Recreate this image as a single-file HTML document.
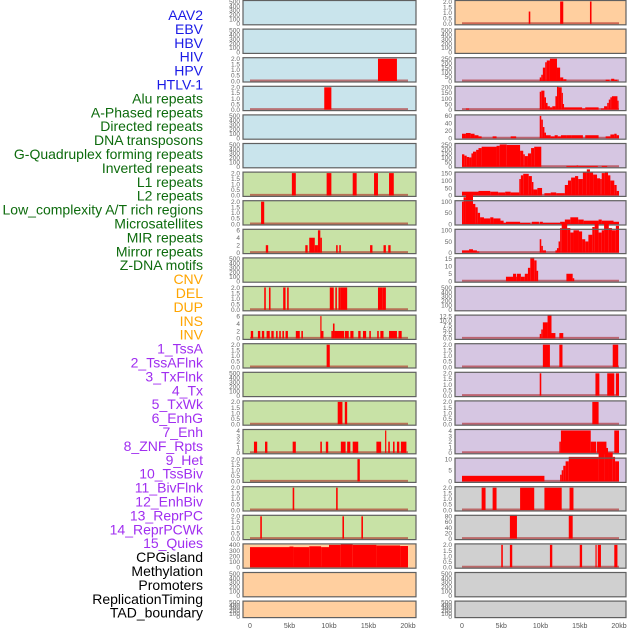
<!DOCTYPE html>
<html><head><meta charset="utf-8"><style>
html,body{margin:0;padding:0;background:#fff;}
svg{display:block;font-family:"Liberation Sans",sans-serif;}
</style></head><body>
<svg id="chart" width="630" height="630" viewBox="0 0 630 630" xmlns="http://www.w3.org/2000/svg"></svg>
<script>
const trackLabels = ["AAV2","EBV","HBV","HIV","HPV","HTLV-1","Alu repeats","A-Phased repeats","Directed repeats","DNA transposons","G-Quadruplex forming repeats","Inverted repeats","L1 repeats","L2 repeats","Low_complexity A/T rich regions","Microsatellites","MIR repeats","Mirror repeats","Z-DNA motifs","CNV","DEL","DUP","INS","INV","1_TssA","2_TssAFlnk","3_TxFlnk","4_Tx","5_TxWk","6_EnhG","7_Enh","8_ZNF_Rpts","9_Het","10_TssBiv","11_BivFlnk","12_EnhBiv","13_ReprPC","14_ReprPCWk","15_Quies","CPGisland","Methylation","Promoters","ReplicationTiming","TAD_boundary"];
const labelColors = ["#1a1ae6","#1a1ae6","#1a1ae6","#1a1ae6","#1a1ae6","#1a1ae6","#0d6b0d","#0d6b0d","#0d6b0d","#0d6b0d","#0d6b0d","#0d6b0d","#0d6b0d","#0d6b0d","#0d6b0d","#0d6b0d","#0d6b0d","#0d6b0d","#0d6b0d","#ffa500","#ffa500","#ffa500","#ffa500","#ffa500","#a02ef0","#a02ef0","#a02ef0","#a02ef0","#a02ef0","#a02ef0","#a02ef0","#a02ef0","#a02ef0","#a02ef0","#a02ef0","#a02ef0","#a02ef0","#a02ef0","#a02ef0","#000","#000","#000","#000","#000"];
const xTicks = [0,5,10,15,20];
const xTickLabels = ["0","5kb","10kb","15kb","20kb"];
// per-row max of y-axis for each column
const leftMax = [500,500,2,2,500,500,2,2,6,500,2,6,2,500,2,4,2,2,2,400,500,500];
const rightMax = [2,500,250,200,60,250,150,100,100,15,500,12.5,2,2,2,4,10,2,80,2,500,500];
const leftBg = ["#c9e4ec","#c9e4ec","#c9e4ec","#c9e4ec","#c9e4ec","#c9e4ec","#c8e2a6","#c8e2a6","#c8e2a6","#c8e2a6","#c8e2a6","#c8e2a6","#c8e2a6","#c8e2a6","#c8e2a6","#c8e2a6","#c8e2a6","#c8e2a6","#c8e2a6","#ffcf9f","#ffcf9f","#ffcf9f"];
const rightBg = ["#ffcf9f","#ffcf9f","#d6c6e2","#d6c6e2","#d6c6e2","#d6c6e2","#d6c6e2","#d6c6e2","#d6c6e2","#d6c6e2","#d6c6e2","#d6c6e2","#d6c6e2","#d6c6e2","#d6c6e2","#d6c6e2","#d6c6e2","#d0d0d0","#d0d0d0","#d0d0d0","#d0d0d0","#d0d0d0"];
const ticks2 = [0,0.5,1,1.5,2];
const ticks500 = [0,100,200,300,400,500];
const leftTicks = [ticks500,ticks500,ticks2,ticks2,ticks500,ticks500,ticks2,ticks2,[0,2,4,6],ticks500,ticks2,[0,2,4,6],ticks2,ticks500,ticks2,[0,1,2,3,4],ticks2,ticks2,ticks2,[0,100,200,300,400],ticks500,ticks500];
const rightTicks = [ticks2,ticks500,[0,50,100,150,200,250],[0,50,100,150,200],[0,20,40,60],[0,50,100,150,200,250],[0,50,100,150],[0,50,100],[0,50,100],[0,5,10,15],ticks500,[0,2.5,5,7.5,10,12.5],ticks2,ticks2,ticks2,[0,1,2,3,4],[0,5,10],ticks2,[0,20,40,60,80],ticks2,ticks500,ticks500];
// bars: [startKb, endKb, value]
const leftBars = [
 [],[],
 [[16.2,18.6,2]],
 [[9.4,10.3,2]],
 [],[],
 [[5.3,5.8,2],[9.7,10.3,2],[13.0,13.5,2],[15.7,16.2,2],[17.6,18.2,2]],
 [[1.4,1.8,2]],
 [[2.0,2.3,2],[7.0,7.3,2],[7.5,8.2,4],[8.2,8.6,2],[8.6,8.9,6],[8.9,9.1,4],[10.9,11.1,2],[11.3,11.5,2],[15.2,15.5,2],[16.9,17.2,2],[17.5,17.8,2]],
 [],
 [[1.8,2.0,2],[2.4,2.6,2],[4.2,4.5,2],[4.7,4.9,2],[10.1,10.6,2],[10.8,11.0,2],[11.2,11.5,2],[11.5,12.3,2],[16.2,16.8,2],[16.8,17.2,2]],
 [[0.1,0.4,2],[1.0,1.3,2],[1.5,1.8,2],[2.1,2.5,2],[2.7,3.0,2],[3.3,3.5,2],[3.7,3.9,2],[4.1,4.3,2],[4.5,4.8,2],[5.8,6.3,2],[6.5,6.7,2],[8.9,9.0,6],[9.0,9.3,2],[10.3,10.5,2],[10.5,10.7,4],[10.7,11.9,2],[12.0,12.5,2],[12.7,13.1,2],[13.7,14.0,2],[14.3,14.7,2],[15.1,15.3,2],[16.1,16.3,2],[16.5,16.9,2],[17.6,18.6,2],[18.8,19.2,2]],
 [[9.7,10.1,2]],
 [],
 [[11.1,11.7,2],[12.0,12.3,2]],
 [[0.5,0.9,2],[1.9,2.2,2],[5.4,5.8,2],[8.9,9.1,2],[9.6,9.9,2],[11.5,12.1,2],[12.3,12.7,2],[13.0,13.7,2],[16.0,16.6,2],[17.1,17.2,4],[17.5,17.7,2],[18.1,18.3,2],[18.6,18.9,2],[19.1,19.8,2]],
 [[13.6,13.9,2]],
 [[5.4,5.6,2],[10.9,11.1,2]],
 [[1.3,1.5,2],[11.7,11.9,2],[14.1,14.3,2]],
 [[0,5,360],[5,5.5,370],[5.5,7.5,360],[7.5,9,375],[9,10,360],[10,11.5,400],[11.5,13,410],[13,16,400],[16,19,390],[19,20,380]],
 [],[]
];
const rightBars = [
 [[8.5,8.7,1.1],[12.5,12.9,2],[16.3,16.5,2]],
 [],
 [[9.9,10.1,40],[10.1,10.3,70],[10.3,10.6,150],[10.6,10.8,210],[10.8,11.2,230],[11.2,12.1,250],[12.1,12.5,150],[12.5,12.9,40],[12.9,13.3,20],[18.3,18.8,15],[19.0,19.4,25],[19.4,19.8,15]],
 [[0.5,0.9,10],[9.9,10.1,160],[10.1,10.5,170],[10.5,10.7,110],[10.7,10.9,60],[10.9,11.2,30],[11.2,11.5,20],[11.5,11.9,30],[11.9,12.1,120],[12.1,12.3,210],[12.3,12.7,200],[12.7,12.8,150],[12.8,13.0,50],[13.0,15.3,20],[15.3,15.7,10],[15.7,17.4,20],[17.7,18.1,10],[18.1,18.5,30],[18.5,18.7,60],[18.7,18.9,90],[18.9,19.1,110],[19.1,19.8,120],[19.8,19.9,80]],
 [[0,0.5,12],[0.5,1.1,14],[1.1,1.6,12],[1.6,2.1,8],[2.1,2.5,5],[3.9,4.4,5],[6.2,6.9,5],[9.9,10.1,60],[10.1,10.3,50],[10.3,10.5,30],[10.5,10.7,15],[10.7,11.3,8],[11.3,11.8,5],[11.8,12.2,8],[12.2,12.6,5],[12.6,13.3,8],[13.3,14.0,8],[14.0,15.4,8],[15.7,17.4,8],[18.3,18.9,5],[18.9,19.4,10],[19.4,19.7,12],[19.7,20,8]],
 [[0,0.3,140],[0.3,0.6,125],[0.6,0.9,110],[0.9,1.2,105],[1.2,1.4,150],[1.4,1.8,170],[1.8,2.1,190],[2.1,2.5,210],[2.5,4.4,225],[4.4,4.8,235],[4.8,5.7,250],[5.7,7.4,245],[7.4,7.8,180],[7.8,8.0,140],[8.0,8.4,120],[8.4,8.8,150],[8.8,9.2,210],[9.2,10.1,225],[13.3,14.6,10],[14.6,14.8,15],[14.8,17.3,10],[17.8,18.5,10]],
 [[0,2.1,25],[2.1,3.6,30],[3.6,4.6,25],[4.6,5.5,20],[5.5,6.2,25],[6.2,7.3,20],[7.3,7.5,110],[7.5,7.8,135],[7.8,8.5,145],[8.5,8.9,130],[8.9,9.1,90],[9.1,9.6,40],[9.6,10.2,50],[10.5,11.3,15],[11.3,12.0,20],[12.0,13.1,15],[13.1,13.5,70],[13.5,13.9,100],[13.9,14.4,120],[14.4,14.8,130],[14.8,15.4,110],[15.4,15.9,160],[15.9,16.3,175],[16.3,16.7,160],[16.7,17.2,140],[17.2,17.6,115],[17.6,17.8,110],[17.8,18.2,150],[18.2,18.6,155],[18.6,18.9,135],[18.9,19.4,100],[19.4,19.7,70],[19.7,20,30]],
 [[0,0.2,100],[0.2,0.5,120],[0.5,1.4,135],[1.4,1.7,90],[1.7,2.0,75],[2.0,2.3,50],[2.3,2.8,30],[2.8,3.6,25],[3.6,4.0,30],[4.0,4.9,25],[4.9,5.3,15],[5.3,5.6,5],[5.6,7.4,10],[7.4,8.7,5],[8.9,9.8,10],[9.9,10.3,10],[10.3,12.5,5],[12.5,13.1,10],[13.1,13.8,20],[13.8,14.8,30],[14.8,15.5,20],[15.5,17.4,15],[17.4,17.8,20],[17.8,19.3,15],[19.3,20,10]],
 [[0,0.9,10],[0.9,1.4,15],[1.4,1.9,10],[1.9,2.2,5],[9.9,10.1,60],[10.1,10.3,30],[10.3,10.7,10],[11.9,12.1,10],[12.1,12.3,20],[12.3,12.5,50],[12.5,12.7,110],[12.7,13.4,135],[13.4,13.8,110],[13.8,14.2,90],[14.2,14.9,100],[14.9,15.3,95],[15.3,15.7,60],[15.7,16.1,50],[16.1,16.6,80],[16.6,16.9,115],[16.9,17.4,130],[17.4,17.8,90],[17.8,18.1,100],[18.1,18.7,130],[18.7,19.1,110],[19.1,19.6,100],[19.6,20,120]],
 [[5.6,6.5,3],[6.5,6.9,5],[6.9,7.0,3],[7.0,7.5,5],[7.5,8.0,3],[8.0,8.4,5],[8.4,8.7,9],[8.7,9.2,16],[9.2,9.5,14],[9.5,9.7,7],[13.3,14.1,5],[14.1,14.3,2]],
 [],
 [[9.9,10.1,2.5],[10.1,10.3,5],[10.3,10.9,9],[10.9,11.4,13],[11.4,11.9,3],[12.4,12.9,3]],
 [[10.3,11.2,2],[12.4,12.8,2],[19.2,19.9,2]],
 [[9.9,10.1,2],[17.0,17.5,2],[18.5,19.4,2],[19.6,20,2]],
 [[16.6,17.4,2]],
 [[12.4,12.6,2],[12.6,16.4,4],[16.4,17.1,2],[17.2,18.4,2],[19.4,20,4]],
 [[0,10.5,2.5],[12.5,12.7,3],[12.7,12.9,5],[12.9,13.2,7],[13.2,13.6,9],[13.6,17.4,11],[17.4,18.1,13],[18.1,18.6,15],[18.6,19.2,13],[19.2,19.5,11],[19.5,20,9]],
 [[2.5,3.0,2],[3.9,4.4,2],[7.4,9.2,2],[10.5,12.7,2],[13.7,14.2,2]],
 [[6.1,7.0,85],[13.6,14.1,85]],
 [[5.0,5.2,2],[6.1,6.4,2],[11.2,11.5,2],[15.0,15.3,2],[17.0,17.1,2],[17.3,17.7,2],[19.4,19.8,2]],
 [],[]
];

const NS = "http://www.w3.org/2000/svg";
const svg = document.getElementById("chart");
function mk(tag, attrs, parent){ const e=document.createElementNS(NS,tag); for(const k in attrs) e.setAttribute(k,attrs[k]); (parent||svg).appendChild(e); return e; }

// labels
trackLabels.forEach((t,i)=>{
  const el = mk("text",{x:203,y:15+13.9*i+5,"text-anchor":"end","font-size":14,fill:labelColors[i]});
  el.textContent = t;
  
  
});

const cols = [
  {name:"left", px0:243, px1:416, x0:250, x1:408, max:leftMax, ticks:leftTicks, bars:leftBars, bg:leftBg},
  {name:"right", px0:455, px1:626, x0:462, x1:619, max:rightMax, ticks:rightTicks, bars:rightBars, bg:rightBg}
];
const ROWH = 28.6;
function fmt(v, ticks){ const dec = ticks.some(t=>t%1!==0); if(!dec) return String(v); return ticks.includes(2.5)? v.toFixed(1) : v.toFixed(1); }

cols.forEach(c=>{
  const xs = kb => c.x0 + (kb/20)*(c.x1-c.x0);
  for(let r=0;r<22;r++){
    const top = r*ROWH + 0.5;
    const h = r===21 ? 16.5 : 24.3;
    const g = mk("g",{});
    
    
    const bg = mk("rect",{x:c.px0,y:top,width:c.px1-c.px0,height:h,fill:c.bg[r]},g);
    
    
    const max = c.max[r];
    const ys = v => top + h - 1 - (v/max)*(h-2);
    const bars = c.bars[r];
    if(bars.length){
      const bl = mk("line",{x1:xs(0),x2:xs(20),y1:ys(0)-0.5,y2:ys(0)-0.5,stroke:"rgba(170,20,20,0.55)","stroke-width":2},g);
      
      
    }
    bars.forEach(b=>{
      const x1=xs(b[0]), x2=xs(b[1]);
      const y=ys(b[2]);
      const rc = mk("rect",{x:x1,y:y,width:Math.max(1.2,x2-x1),height:ys(0)-y,fill:"#ff0000"},g);
      
      
    });
    const fr = mk("rect",{x:c.px0,y:top,width:c.px1-c.px0,height:h,fill:"none",stroke:"#606060","stroke-width":1.2},g);
    
    
    c.ticks[r].forEach(t=>{
      const tx = mk("text",{x:c.px0-3,y:ys(t)+2.3,"text-anchor":"end","font-size":6.5,fill:"#666"},g);
      tx.textContent = fmt(t, c.ticks[r]);
      
      
    });
  }
  xTicks.forEach((t,i)=>{
    const tx = mk("text",{x:xs(t),y:628,"text-anchor":"middle","font-size":7,fill:"#555"});
    tx.textContent = xTickLabels[i];
    
    
  });
});
</script>
</body></html>
